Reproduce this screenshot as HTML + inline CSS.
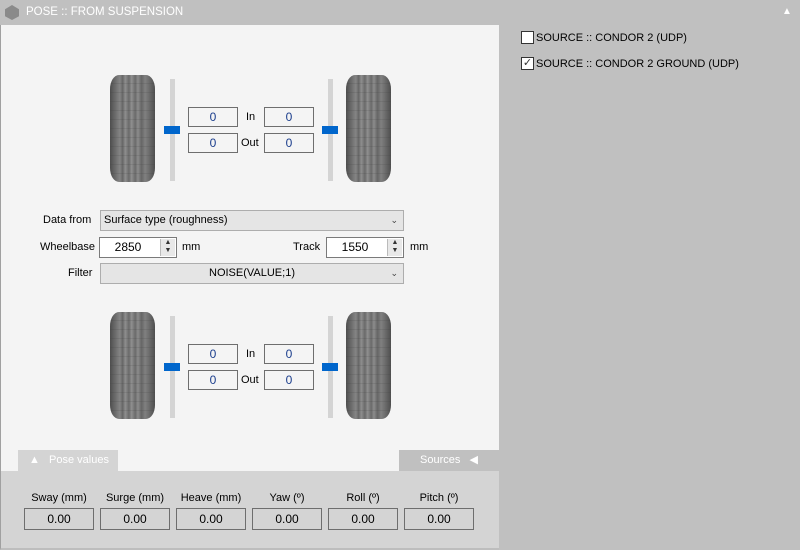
<!DOCTYPE html>
<html><head><style>
*{margin:0;padding:0;box-sizing:border-box}
body{width:800px;height:550px;background:#c0c0c0;position:relative;overflow:hidden;font-family:"Liberation Sans",sans-serif;font-size:11px;color:#000}
.a{position:absolute}
.tire{position:absolute;width:45px;height:107px;border-radius:9px/14px;
background:
repeating-linear-gradient(180deg,transparent 0 8px,rgba(60,60,60,.15) 8px 9px),
linear-gradient(90deg,#4e4e4e 0,#6c6c6c 12%,#858585 22%,#666 28%,#8e8e8e 34%,#6a6a6a 42%,#909090 48%,#6a6a6a 56%,#8c8c8c 62%,#666 70%,#808080 78%,#6a6a6a 88%,#4e4e4e 100%);}
.sl{position:absolute;width:5px;height:102px;background:#d4d4d4}
.th{position:absolute;width:16px;height:8px;background:#0066cc}
.box{position:absolute;width:50px;height:20px;border:1px solid #6e6e6e;background:#f4f4f4;text-align:center;line-height:18px;color:#1a3d8c;font-size:12px}
.lbl{position:absolute}
.dd{position:absolute;background:#e5e5e5;border:1px solid #adadad;height:21px;line-height:19px}
.num{position:absolute;background:#fff;border:1px solid #7a7a7a;height:21px;line-height:19px;width:78px;font-size:12px}
.sp{position:absolute;right:1px;top:1px;width:15px;height:17px;background:#e8e8e8;border-left:1px solid #bbb;font-size:7px;line-height:8px;text-align:center;color:#333}
.vb{position:absolute;width:70px;height:22px;border:1px solid #6e6e6e;background:#d4d4d4;text-align:center;line-height:20px;top:508px;font-size:12px}
.vl{position:absolute;width:70px;text-align:center;top:492px}
.cb{position:absolute;width:13px;height:13px;border:1px solid #333;background:#fff;left:521px}
</style></head><body>
<div class="a" style="left:5px;top:5px;width:14px;height:15px;background:#8a8a8a;clip-path:polygon(50% 0,100% 28%,100% 75%,50% 100%,0 75%,0 28%)"></div>
<div class="a" style="left:26px;top:6px;color:#fff;font-size:11.5px">POSE :: FROM SUSPENSION</div>
<div class="a" style="left:782px;top:6px;color:#fff;font-size:10px">▲</div>

<div class="a" style="left:0;top:25px;width:499px;height:525px;background:#f4f4f4;border-left:1px solid #a0a0a0"></div>

<div class="tire" style="left:110px;top:75px"></div>
<div class="sl" style="left:170px;top:79px"></div><div class="th" style="left:164px;top:126px"></div>
<div class="box" style="left:188px;top:107px">0</div><div class="lbl" style="left:246px;top:111px">In</div><div class="box" style="left:264px;top:107px">0</div>
<div class="box" style="left:188px;top:133px">0</div><div class="lbl" style="left:241px;top:137px">Out</div><div class="box" style="left:264px;top:133px">0</div>
<div class="sl" style="left:328px;top:79px"></div><div class="th" style="left:322px;top:126px"></div>
<div class="tire" style="left:346px;top:75px"></div>

<div class="tire" style="left:110px;top:312px"></div>
<div class="sl" style="left:170px;top:316px"></div><div class="th" style="left:164px;top:363px"></div>
<div class="box" style="left:188px;top:344px">0</div><div class="lbl" style="left:246px;top:348px">In</div><div class="box" style="left:264px;top:344px">0</div>
<div class="box" style="left:188px;top:370px">0</div><div class="lbl" style="left:241px;top:374px">Out</div><div class="box" style="left:264px;top:370px">0</div>
<div class="sl" style="left:328px;top:316px"></div><div class="th" style="left:322px;top:363px"></div>
<div class="tire" style="left:346px;top:312px"></div>

<div class="lbl" style="left:43px;top:214px">Data from</div>
<div class="dd" style="left:100px;top:210px;width:304px;padding-left:3px">Surface type (roughness)<span class="a" style="right:5px;top:0;font-size:9px;color:#444">&#8964;</span></div>
<div class="lbl" style="left:40px;top:241px">Wheelbase</div>
<div class="num" style="left:99px;top:237px;text-align:center;padding-right:20px">2850<div class="sp">▲<br>▼</div></div>
<div class="lbl" style="left:182px;top:241px">mm</div>
<div class="lbl" style="left:293px;top:241px">Track</div>
<div class="num" style="left:326px;top:237px;text-align:center;padding-right:20px">1550<div class="sp">▲<br>▼</div></div>
<div class="lbl" style="left:410px;top:241px">mm</div>
<div class="lbl" style="left:68px;top:267px">Filter</div>
<div class="dd" style="left:100px;top:263px;width:304px;text-align:center">NOISE(VALUE;1)<span class="a" style="right:5px;top:0;font-size:9px;color:#444">&#8964;</span></div>

<div class="a" style="left:18px;top:450px;width:100px;height:21px;background:#d4d4d4;color:#fff;line-height:21px;padding-left:11px">▲&nbsp;&nbsp; Pose values</div>
<div class="a" style="left:399px;top:450px;width:100px;height:21px;background:#c0c0c0;color:#fff;line-height:21px;padding-left:21px">Sources&nbsp;&nbsp; ◀</div>
<div class="a" style="left:0;top:471px;width:499px;height:79px;background:#d4d4d4;border-left:1px solid #a0a0a0;border-bottom:2px solid #bdbdbd"></div>

<div class="vl" style="left:24px">Sway (mm)</div><div class="vb" style="left:24px">0.00</div>
<div class="vl" style="left:100px">Surge (mm)</div><div class="vb" style="left:100px">0.00</div>
<div class="vl" style="left:176px">Heave (mm)</div><div class="vb" style="left:176px">0.00</div>
<div class="vl" style="left:252px">Yaw (º)</div><div class="vb" style="left:252px">0.00</div>
<div class="vl" style="left:328px">Roll (º)</div><div class="vb" style="left:328px">0.00</div>
<div class="vl" style="left:404px">Pitch (º)</div><div class="vb" style="left:404px">0.00</div>

<div class="cb" style="top:31px"></div>
<div class="lbl" style="left:536px;top:32px">SOURCE :: CONDOR 2 (UDP)</div>
<div class="cb" style="top:57px;font-size:11px;line-height:11px;text-align:center;color:#333">✓</div>
<div class="lbl" style="left:536px;top:58px">SOURCE :: CONDOR 2 GROUND (UDP)</div>
</body></html>
